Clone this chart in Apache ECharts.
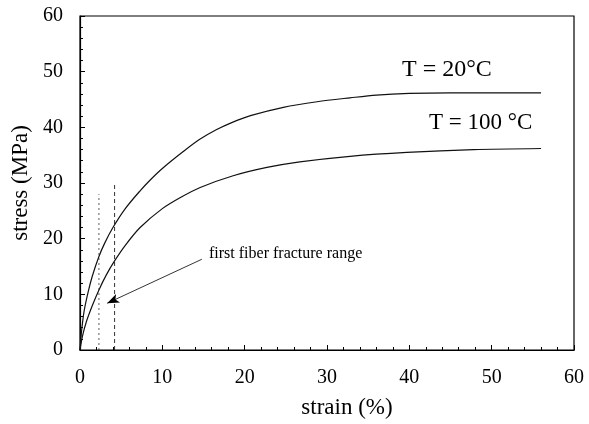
<!DOCTYPE html>
<html>
<head>
<meta charset="utf-8">
<script src="https://cdn.jsdelivr.net/npm/echarts@6/dist/echarts.min.js"></script>
<style>
html, body { margin: 0; padding: 0; background: #fff; }
#main { width: 589px; height: 424px; }
</style>
</head>
<body>
<div id="main"></div>
<script>
// stress-strain curves: [strain %, stress MPa]
var curve20 = [[0,0],[0.2,3.5],[0.5,7],[1,10.5],[1.5,13.3],[2.3,16.8],[3,19.2],[4,22],[5.5,25.4],[7.3,28.6],[8.5,30.5],
    [10,32.6],[12.5,35.6],[14.5,37.8],[16.6,39.6],[18.5,40.9],[20.7,42.1],[24.7,43.6],[28.8,44.6],[32.8,45.3],
    [36,45.8],[40,46.1],[45,46.2],[50,46.2],[56,46.2]];
var curve100 = [[0,0],[0.3,2.5],[0.8,5.2],[1.5,8],[2.3,10.8],[3.2,13.5],[4.2,16],[5.5,18.8],[7.3,22],[10,25.4],
    [12.2,27.4],[14.6,29.2],[18.6,31.3],[22.7,32.8],[26.7,33.8],[32.8,34.8],[39.7,35.5],[47.8,36],[56,36.2]];
// first fiber fracture range (strain) and height of the markers
var fractureStrain = [2.3, 4.2];
var fractureTop = [28, 30];
var xTicks = [0, 10, 20, 30, 40, 50, 60];
var yTicks = [0, 10, 20, 30, 40, 50, 60];

var serif = '"Liberation Serif", "DejaVu Serif", serif';
var myChart = echarts.init(document.getElementById('main'));

var axisCommon = {
    axisLine: { show: true, lineStyle: { color: '#000', width: 1.2 } },
    axisTick: { show: true, inside: true, length: 5, lineStyle: { color: '#000' } },
    minorTick: { show: true, splitNumber: 5, length: 3, lineStyle: { color: '#000' } },
    splitLine: { show: false },
    axisLabel: { color: '#000', fontFamily: serif, fontSize: 20 },
    nameTextStyle: { color: '#000', fontFamily: serif, fontSize: 23 }
};

option = {
    animation: false,
    backgroundColor: '#fff',
    grid: { left: 80, right: 15, top: 16, bottom: 74, show: true, borderColor: '#000', borderWidth: 1.2 },
    xAxis: echarts.util.merge({
        type: 'value', min: xTicks[0], max: xTicks[xTicks.length - 1], interval: 10,
        name: 'strain (%)', nameLocation: 'middle', nameGap: 46,
        nameTextStyle: { padding: [0, 0, 0, 40] },
        axisLabel: { margin: 18 }
    }, axisCommon),
    yAxis: echarts.util.merge({
        type: 'value', min: yTicks[0], max: yTicks[yTicks.length - 1], interval: 10,
        name: 'stress (MPa)', nameLocation: 'middle', nameGap: 46,
        axisLabel: { margin: 17 }
    }, axisCommon),
    series: [
        {
            name: 'T = 20°C', type: 'line', data: curve20, symbol: 'none', smooth: 0.3,
            lineStyle: { color: '#111', width: 1.2 }
        },
        {
            name: 'T = 100 °C', type: 'line', data: curve100, symbol: 'none', smooth: 0.3,
            lineStyle: { color: '#111', width: 1.2 },
            markLine: {
                silent: true, symbol: ['none', 'arrow'], symbolSize: [7, 12],
                lineStyle: { color: '#000', width: 0.8, type: 'solid' },
                label: { show: false },
                data: [[{ coord: [14.8, 16.3] }, { coord: [3.3, 8.4] }]]
            }
        },
        {
            name: 'fracture1', type: 'line', symbol: 'none',
            data: [[fractureStrain[0], 0], [fractureStrain[0], fractureTop[0]]],
            lineStyle: { color: '#333', width: 0.8, type: [2, 3] }
        },
        {
            name: 'fracture2', type: 'line', symbol: 'none',
            data: [[fractureStrain[1], 0], [fractureStrain[1], fractureTop[1]]],
            lineStyle: { color: '#000', width: 0.8, type: [4, 3] }
        }
    ],
    graphic: [
        { type: 'text', left: 402, top: 58, style: { text: 'T = 20°C', font: '24px ' + serif, fill: '#000' } },
        { type: 'text', left: 429, top: 111, style: { text: 'T = 100 °C', font: '23px ' + serif, fill: '#000' } },
        { type: 'text', left: 209, top: 246, style: { text: 'first fiber fracture range', font: '16px ' + serif, fill: '#000' } }
    ]
};
myChart.setOption(option);
</script>
</body>
</html>
